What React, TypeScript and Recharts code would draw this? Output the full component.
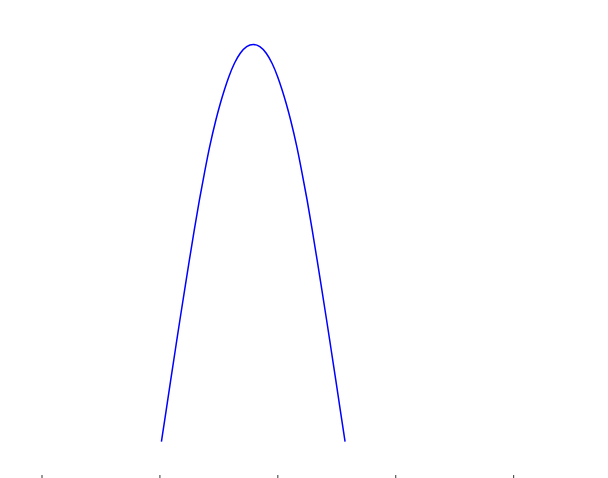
import React from 'react'
import { LineChart, Line, XAxis, YAxis } from 'recharts'

// values (x in tick units, y with peak ~10)
const xValues = [
    1.0127, 1.0534, 1.0915, 1.1305, 1.1695, 1.2093, 1.25, 1.2915, 1.3347, 1.3771,
    1.422, 1.4746, 1.5127, 1.5466, 1.5847, 1.6322, 1.6813, 1.7356,
    1.7915,
    1.8474, 1.9017, 1.9508, 1.9983, 2.0364, 2.0703, 2.1084, 2.161, 2.2059,
    2.2483, 2.2915, 2.333, 2.3737, 2.4135, 2.4525, 2.4915, 2.5296, 2.5703,
]
const yValues = [
    0, 0.798, 1.553, 2.309, 3.064, 3.819, 4.575, 5.33, 6.085, 6.757,
    7.427, 8.099, 8.52, 8.854, 9.189, 9.527, 9.778, 9.945,
    10.0,
    9.945, 9.778, 9.527, 9.189, 8.854, 8.52, 8.099, 7.427, 6.757,
    6.085, 5.33, 4.575, 3.819, 3.064, 2.309, 1.553, 0.798, 0,
]
const xTicks = [0, 1, 2, 3, 4]

const data = xValues.map((x, i) => ({ x, y: yValues[i] }))

function App() {
    return (
        <div style={{ position: 'absolute', left: 0, top: 0 }}>
            <LineChart width={608} height={478} data={data} margin={{ top: 0, right: 0, bottom: 0, left: 42 }}>
                <XAxis
                    dataKey="x"
                    type="number"
                    domain={[0, 4.8]}
                    ticks={xTicks}
                    height={3}
                    tickSize={3}
                    axisLine={false}
                    tickLine={{ stroke: '#333' }}
                    tick={() => <g />}
                    interval={0}
                />
                <YAxis hide type="number" domain={[-0.838, 11.12]} allowDataOverflow />
                <Line
                    dataKey="y"
                    type="monotoneX"
                    stroke="#0000ff"
                    strokeWidth={1.5}
                    dot={false}
                    isAnimationActive={false}
                />
            </LineChart>
        </div>
    )
}

export default App
